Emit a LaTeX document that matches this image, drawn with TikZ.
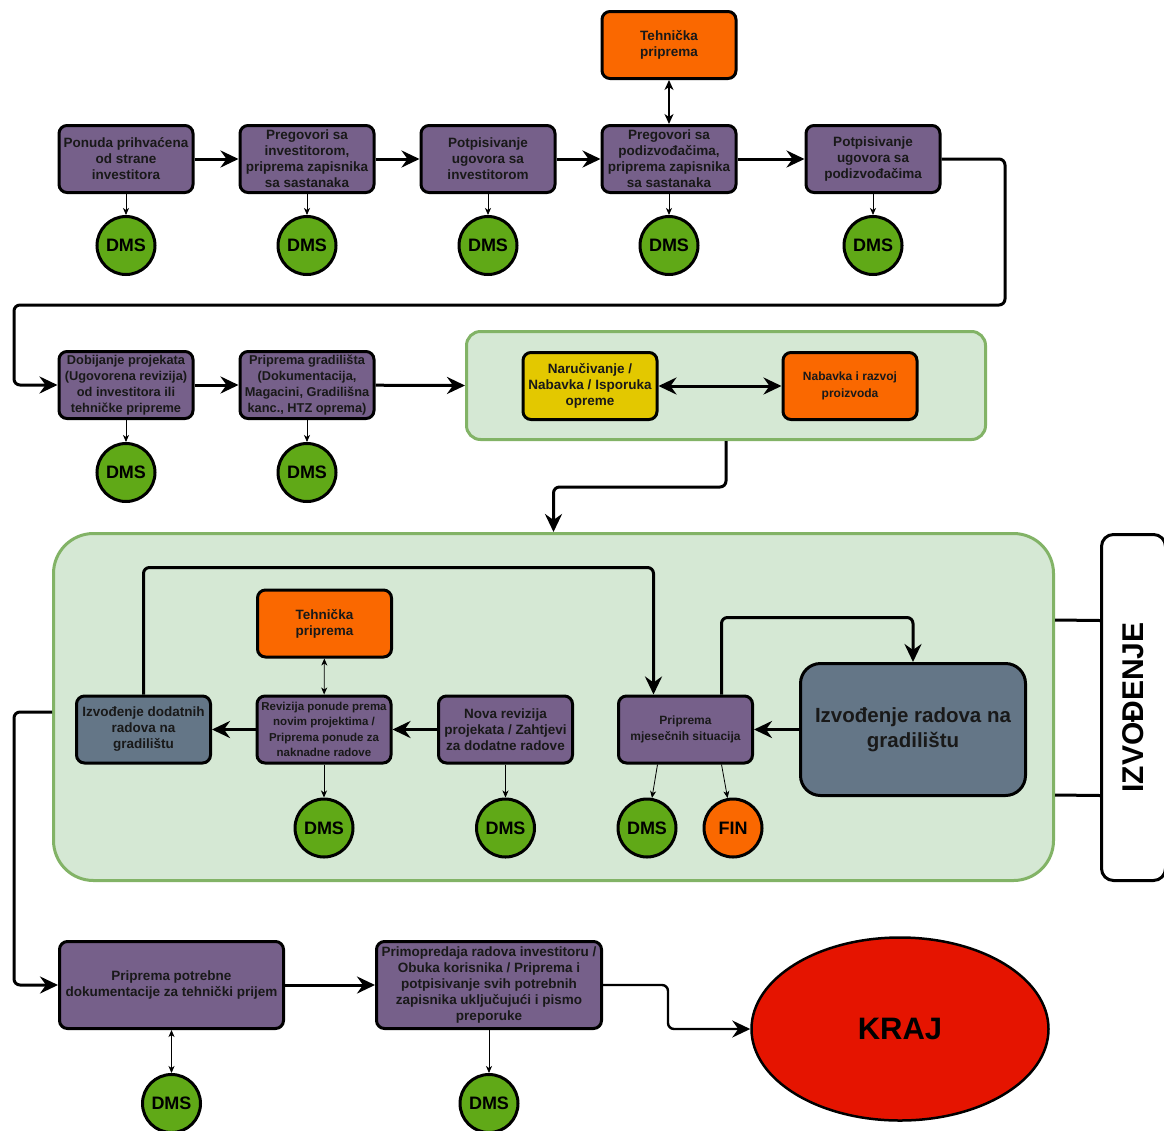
\documentclass[tikz,border=0pt]{standalone}
\usepackage{fontspec}
\setmainfont{Liberation Sans}
\usepackage{graphicx}
\usetikzlibrary{arrows.meta,shapes.geometric,positioning}
\definecolor{procpurple}{HTML}{76608A}
\definecolor{slate}{HTML}{647687}
\definecolor{techorange}{HTML}{FA6800}
\definecolor{orderyellow}{HTML}{E3C800}
\definecolor{dmsgreen}{HTML}{60A917}
\definecolor{grpfill}{HTML}{D5E8D4}
\definecolor{grpline}{HTML}{82B366}
\definecolor{endred}{HTML}{E51400}
\begin{document}
\begin{tikzpicture}[x=1pt,y=-1pt,
    flowtip/.tip={Stealth[length=18pt,width=17pt,inset=6pt]},
    midtip/.tip={Stealth[length=10pt,width=9pt,inset=3pt]},
    notetip/.tip={Stealth[length=7pt,width=6pt,inset=2pt]},
    box/.style={rectangle,rounded corners=8pt,draw=black,line width=3pt,align=center,
      minimum width=134pt,minimum height=67pt,inner sep=1pt,text=black!90,
      font=\bfseries\fontsize{13.5}{16}\selectfont},
    proc/.style={box,fill=procpurple},
    tech/.style={box,fill=techorange},
    work/.style={box,fill=slate},
    small/.style={font=\bfseries\fontsize{11.5}{15.5}\selectfont},
    tight/.style={font=\bfseries\fontsize{12.8}{16}\selectfont},
    dms/.style={circle,draw=black,line width=3pt,fill=dmsgreen,minimum size=58pt,
      inner sep=0pt,font=\bfseries\fontsize{18}{18}\selectfont},
    group/.style={rectangle,draw=grpline,fill=grpfill,line width=3pt},
    flow/.style={line width=3pt,rounded corners=6pt,-flowtip},
    twoway/.style={line width=3pt,flowtip-flowtip},
    mid/.style={line width=1.6pt,midtip-midtip},
    note/.style={line width=0.8pt,-notetip},
    twonote/.style={line width=0.8pt,notetip-notetip},
    conn/.style={line width=3pt}
  ]
  \useasboundingbox (0,0) rectangle (1164,1130);
  \fill[white] (0,0) rectangle (1164,1130);
  \clip (0,0) rectangle (1164,1130);

  % first row: contract
  \node[tech] (tehnA) at (669,45) {Tehnička\\priprema};
  \node[proc] (ponuda) at (126,159) {Ponuda prihvaćena\\od strane\\investitora};
  \node[proc] (pregInv) at (307,159) {Pregovori sa\\investitorom,\\priprema zapisnika\\sa sastanaka};
  \node[proc] (potpInv) at (488,159) {Potpisivanje\\ugovora sa\\investitorom};
  \node[proc] (pregPod) at (669,159) {Pregovori sa\\podizvođačima,\\priprema zapisnika\\sa sastanaka};
  \node[proc] (potpPod) at (873,159) {Potpisivanje\\ugovora sa\\podizvođačima};
  \foreach \b in {ponuda,pregInv,potpInv,pregPod,potpPod} {
    \node[dms,below=21pt of \b] (dms-\b) {DMS};
    \draw[note] (\b) -- (dms-\b);
  }
  \draw[flow] (ponuda) -- (pregInv);
  \draw[flow] (pregInv) -- (potpInv);
  \draw[flow] (potpInv) -- (pregPod);
  \draw[flow] (pregPod) -- (potpPod);
  \draw[mid] (tehnA) -- (pregPod);

  % second row: preparation
  \node[proc,tight] (dobijanje) at (126,385) {Dobijanje projekata\\(Ugovorena revizija)\\od investitora ili\\tehničke pripreme};
  \node[proc,tight] (gradiliste) at (307,385) {Priprema gradilišta\\(Dokumentacija,\\Magacini, Gradilišna\\kanc., HTZ oprema)};
  \foreach \b in {dobijanje,gradiliste} {
    \node[dms,below=22pt of \b] (dms-\b) {DMS};
    \draw[note] (\b) -- (dms-\b);
  }
  \draw[flow] (potpPod.east) -| (1005,305) -| (14,385) -- (dobijanje.west);
  \draw[flow] (dobijanje) -- (gradiliste);

  \node[group,rounded corners=14pt,minimum width=519pt,minimum height=108pt] (grpA) at (726,385.5) {};
  \node[box,fill=orderyellow] (narucivanje) at (590,386) {Naručivanje /\\Nabavka / Isporuka\\opreme};
  \node[tech,font=\bfseries\fontsize{12}{17}\selectfont] (nabavka) at (850,386) {Nabavka i razvoj\\proizvoda};
  \draw[twoway] (narucivanje) -- (nabavka);
  \draw[flow] (gradiliste) -- (grpA.west);

  % execution
  \node[group,rounded corners=40pt,minimum width=1000pt,minimum height=347pt] (grpB) at (553.5,707) {};
  \draw[flow] (grpA.south) -- (726,487) -| (grpB.north);
  \node[draw,fill=white,line width=3pt,rounded corners=12pt,minimum width=64pt,minimum height=346pt,
    font=\bfseries\fontsize{30}{30}\selectfont] (izvodjenje) at (1133.5,707.5) {\rotatebox{90}{IZVOĐENJE}};
  \draw[conn] ([yshift=87pt]grpB.east) -- ([yshift=87pt]izvodjenje.west);
  \draw[conn] ([yshift=-88pt]grpB.east) -- ([yshift=-88pt]izvodjenje.west);

  \node[tech] (tehnB) at (324.5,623.5) {Tehnička\\priprema};
  \node[work] (dodatni) at (143.5,729.5) {Izvođenje dodatnih\\radova na\\gradilištu};
  \node[proc,small] (revizija) at (324,729.5) {Revizija ponude prema\\novim projektima /\\Priprema ponude za\\naknadne radove};
  \node[proc] (novaRev) at (505.5,729.5) {Nova revizija\\projekata / Zahtjevi\\za dodatne radove};
  \node[proc,font=\bfseries\fontsize{12}{15.5}\selectfont] (mjesecne) at (685.5,729.5) {Priprema\\mjesečnih situacija};
  \node[work,rounded corners=20pt,minimum width=225pt,minimum height=132pt,
    font=\bfseries\fontsize{20.5}{25}\selectfont] (radovi) at (913,729.5) {Izvođenje radova na\\gradilištu};
  \foreach \b in {revizija,novaRev} {
    \node[dms,below=33pt of \b] (dms-\b) {DMS};
    \draw[note] (\b) -- (dms-\b);
  }
  \node[dms] (dms-mjesecne) at (647,828) {DMS};
  \node[dms,fill=techorange] (fin) at (733,828) {FIN};
  \draw[note] ([xshift=-28pt]mjesecne.south) -- (dms-mjesecne);
  \draw[note] ([xshift=36pt]mjesecne.south) -- (fin);
  \draw[twonote] (tehnB) -- (revizija);
  \draw[flow] (radovi) -- (mjesecne);
  \draw[flow] (novaRev) -- (revizija);
  \draw[flow] (revizija) -- (dodatni);
  \draw[flow] (dodatni.north) -- ++(0,-127) -| ([xshift=-32pt]mjesecne.north);
  \draw[flow] ([xshift=36pt]mjesecne.north) -- ++(0,-77) -| (radovi.north);

  % handover
  \node[proc,minimum width=224pt,minimum height=87pt] (pripremaDok) at (171.5,985) {Priprema potrebne\\dokumentacije za tehnički prijem};
  \node[proc,minimum width=225pt,minimum height=87pt] (primopredaja) at (489,985) {Primopredaja radova investitoru /\\Obuka korisnika / Priprema i\\potpisivanje svih potrebnih\\zapisnika uključujući i pismo\\preporuke};
  \node[ellipse,draw,line width=2.5pt,fill=endred,minimum width=297pt,minimum height=183pt,
    font=\bfseries\fontsize{31}{31}\selectfont] (kraj) at (900,1029) {KRAJ};
  \node[dms,below=43pt of pripremaDok] (dms-pripremaDok) {DMS};
  \node[dms,below=43pt of primopredaja] (dms-primopredaja) {DMS};
  \draw[twonote] (pripremaDok) -- (dms-pripremaDok);
  \draw[note] (primopredaja) -- (dms-primopredaja);
  \draw[flow] ([yshift=-5pt]grpB.west) -- (14,712) |- (pripremaDok.west);
  \draw[flow] (pripremaDok) -- (primopredaja);
  \draw[flow,line width=2.4pt] (primopredaja.east) -- (668,985) |- (kraj.west);
\end{tikzpicture}
\end{document}
